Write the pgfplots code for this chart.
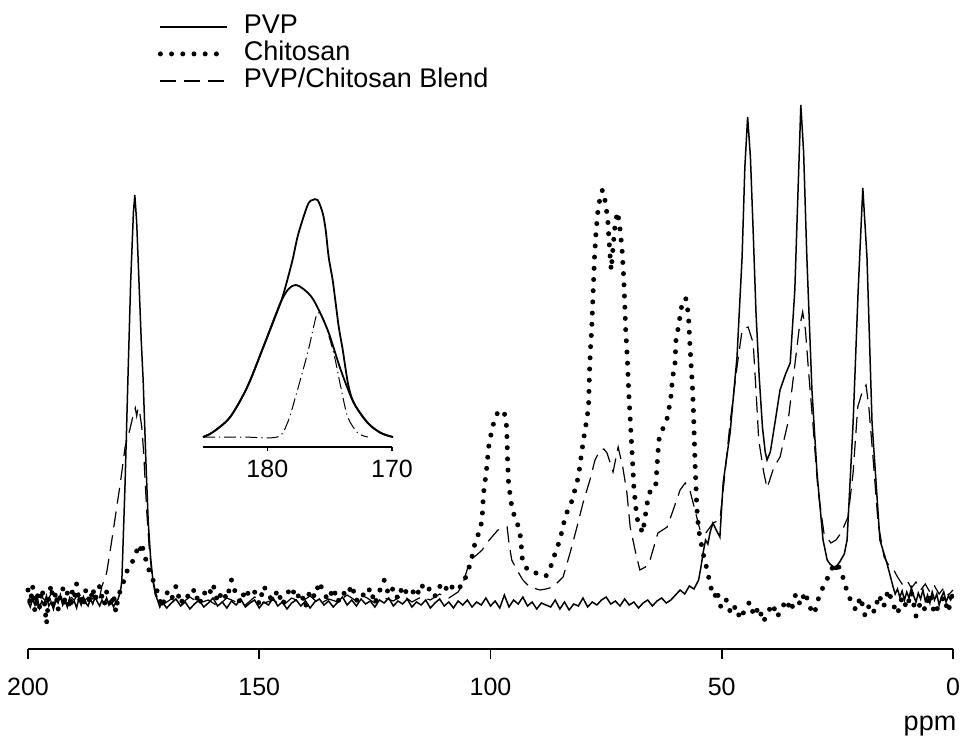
\documentclass[border=0pt]{standalone}
\usepackage{pgfplots}
\pgfplotsset{compat=1.18}
\usepackage{fontspec}
\setmainfont{Liberation Sans}
\newcommand{\lblfont}{\fontsize{12.5}{15}\selectfont}
\newcommand{\legfont}{\fontsize{13.5}{16}\selectfont}
\begin{document}
\lblfont
\begin{tikzpicture}
\begin{axis}[
  scale only axis, width=462.5pt, height=278.5pt,
  at={(0pt,0pt)}, anchor=south west,
  xmin=0, xmax=200, x dir=reverse, ymin=3, ymax=560,
  axis x line=bottom, axis y line=none,
  axis line style={line width=0.9pt,-},
  xtick={0,50,100,150,200},
  tick align=outside, major tick length=5pt,
  tick style={line width=0.9pt,black},
  /pgf/number format/assume math mode=true,
  xticklabel style={font=\lblfont, yshift=-5pt},
  xlabel={ppm},
  xlabel style={at={(axis description cs:1,0)}, anchor=base east, yshift=-40.5pt, xshift=6pt, font=\legfont},
  clip=false,
  legend image code/.code={\draw[#1] (0pt,0pt) -- (33.5pt,0pt);},
  legend style={at={(axis description cs:0.14,1.14)}, anchor=north west, draw=none, fill=none, inner sep=0pt, row sep=1pt, font=\legfont, nodes={inner sep=0pt, text height=9.5pt, text depth=3pt}, /tikz/every odd column/.append style={column sep=7pt}},
  legend cell align=left,
]
\addplot[black, line width=0.75pt] table[row sep=\\] {x y\\
200 50\\199.5 45\\199 53\\198.5 47\\198 55\\197.5 44\\197 51\\196.5 48\\196 56\\195.5 46\\195 50\\194.5 43\\194 52\\193.5 49\\193 57\\192.5 47\\192 52\\191.5 45\\191 54\\190.5 48\\190 51\\189.5 44\\189 53\\188.5 47\\188 55\\187.5 49\\187 46\\186.5 53\\186 48\\185.5 55\\185 50\\184.5 46\\184 52\\183.5 48\\183 54\\182.5 47\\182 51\\181.5 45\\181 50\\180.5 53\\180.2 58\\179.9 64\\179.7 72\\179.0 170\\178.4 272\\177.8 370\\177.2 440\\176.9 457\\176.5 430\\176.0 370\\175.5 310\\175.1 272\\174.5 190\\174.0 130\\173.5 95\\173.0 72\\172.5 58\\172 52\\171.5 45\\
171 50\\170 44\\169 49\\168 53\\167 46\\166 50\\165 43\\164 48\\163 52\\162 45\\161 49\\160 54\\159 46\\158 50\\157 44\\156 51\\155 47\\154 53\\153 45\\152 49\\151 52\\150 44\\149 50\\148 47\\147 54\\146 46\\145 50\\144 43\\143 49\\142 52\\141 46\\140 51\\139 44\\138 50\\137 53\\136 47\\135 51\\134 45\\133 50\\132 55\\131 47\\130 52\\129 46\\128 53\\127 48\\126 51\\125 45\\124 52\\123 49\\122 54\\121 46\\120 51\\119 48\\118 53\\117 45\\116 50\\115 47\\114 52\\113 44\\112 49\\111 53\\110 46\\109 50\\108 44\\107 51\\106 47\\105 52\\104 45\\103 50\\102 47\\101 54\\100 46\\99 51\\98 44\\97 57\\96 45\\95 52\\94 48\\93 55\\92 46\\91 50\\90 43\\89 49\\88 47\\87 45\\86 52\\85 43\\84 50\\83 42\\82 48\\81 46\\80 54\\79 45\\78 50\\77 47\\76 52\\75 55\\74 48\\73 51\\72 46\\71 53\\70 47\\69 50\\68 44\\67 49\\66 52\\65 46\\64 51\\63 54\\62 49\\61 52\\60 57\\59 62\\58 58\\57 66\\56 63\\55 72\\54.5 85\\54 100\\53.5 112\\53 108\\52.5 120\\51.9 129\\51.2 122\\50.4 115\\49.7 169\\48.2 219\\46.7 295\\45.6 395\\45.0 485\\44.4 535\\43.8 495\\43.2 420\\42.6 340\\41.9 275\\41.2 225\\40.6 200\\40.2 192\\39.5 200\\38.5 229\\37.4 262\\36.2 278\\35.2 289\\34.2 362\\33.5 462\\32.9 547\\32.3 500\\31.6 395\\30.5 262\\29.4 179\\28.1 112\\27.2 92\\26.6 88\\25.5 84\\24.5 90\\23.5 98\\22.9 112\\21.6 229\\20.5 362\\19.5 464\\18.6 395\\17.5 229\\15.8 112\\14.3 89\\13.5 75\\13 66\\12.5 58\\12 63\\11.5 55\\11 61\\10.5 52\\10 60\\9.5 54\\9 64\\8.5 56\\8 50\\7.5 59\\7 53\\6.5 62\\6 51\\5.5 57\\5 49\\4.5 60\\4 52\\3.5 58\\3 47\\2.5 55\\2 60\\1.5 50\\1 56\\0.5 52\\0 58\\
};
\addlegendentry{PVP}
\addplot[black, line width=2.5pt, line cap=round, dash pattern=on 0pt off 5.6pt] table[row sep=\\] {x y\\
200 62\\199.5 48\\199 66\\198.5 40\\198 58\\197.5 45\\197 63\\196.5 52\\196 28\\195.5 55\\195 67\\194.5 47\\194 60\\193.5 42\\193 57\\192.5 64\\192 50\\191.5 59\\191 44\\190.5 61\\190 53\\189.5 68\\189 49\\188.5 58\\188 46\\187.5 62\\187 55\\186.5 49\\186 64\\185.5 52\\185 59\\184.5 66\\184 55\\183.5 47\\183 60\\182.5 52\\182 45\\181.5 58\\181 40\\180.5 55\\180 62\\179.5 68\\179 75\\178.5 82\\178 86\\177.5 89\\177 96\\176.4 102\\175.9 98\\175.4 109\\175 100\\174.5 92\\174 84\\173.5 78\\173.2 75\\172.5 66\\172 60\\171.5 52\\
171 45\\170 60\\169 52\\168 66\\167 48\\166 58\\165 54\\164 63\\163 47\\162 60\\161 55\\160 68\\159 50\\158 61\\157 53\\156 72\\155 57\\154 49\\153 63\\152 55\\151 60\\150 48\\149 66\\148 56\\147 52\\146 62\\145 47\\144 58\\143 65\\142 53\\141 60\\140 45\\139 62\\138 55\\137 70\\136 58\\135 52\\134 64\\133 50\\132 60\\131 56\\130 67\\129 51\\128 59\\127 55\\126 64\\125 48\\124 61\\123 72\\122 57\\121 64\\120 53\\119 66\\118 58\\117 62\\116 55\\115 68\\114 60\\113 64\\112 56\\111 66\\110 60\\109 69\\108 63\\107 67\\106.5 65\\105.8 69\\
104.3 89\\103.2 112\\102.2 122\\101.8 135\\101.5 159\\100.9 180\\100.4 205\\99.6 225\\98.5 239\\97.8 236\\97 239\\96.5 225\\96.3 192\\96.1 169\\95.7 155\\95.3 142\\94.2 129\\93.5 115\\93.1 92\\92 82\\90.7 79\\89.2 79\\88 76\\87 85\\86 99\\85 112\\84 132\\83.3 142\\82.3 152\\81.6 165\\81 175\\80.3 199\\79.9 212\\79.2 232\\78.8 245\\78.6 279\\78.4 302\\78.1 325\\77.9 349\\77.7 372\\77.5 395\\77.2 419\\76.8 440\\76.4 452\\75.8 462\\75.1 449\\74.6 429\\74.2 400\\73.9 382\\73.5 405\\73.0 430\\72.5 440\\71.9 420\\71.5 399\\71.2 375\\71 352\\70.8 325\\70.4 292\\70.1 259\\69.7 225\\69.3 192\\69.0 165\\68.6 145\\68.2 132\\67.1 119\\66 152\\65.4 162\\64.3 165\\63.9 192\\63.6 212\\62.6 225\\61.7 235\\61 255\\60.6 275\\60.1 289\\59.9 312\\59.5 322\\58.7 345\\57.8 354\\57.4 344\\57.1 329\\56.9 309\\56.6 285\\56.3 262\\56.1 239\\55.8 192\\55.6 169\\55.4 145\\55.2 134\\55 122\\54 98\\53 79\\52.4 65\\
51.5 55\\51 62\\50.5 48\\50 44\\49 52\\48 38\\47 46\\46 33\\45 42\\44 50\\43 36\\42 45\\41 30\\40 40\\39 48\\38 35\\37 44\\36 52\\35 41\\34 58\\33 47\\32 60\\31 45\\30 38\\29 55\\28 66\\27 75\\26 85\\25.5 80\\25 90\\24.5 82\\24 78\\23.5 70\\23 62\\22 50\\21 42\\20 55\\19 36\\18 48\\17 40\\16 57\\15 45\\14 62\\13 48\\12 38\\11 55\\10 44\\9 60\\8 36\\7 50\\6 42\\5 58\\4 38\\3 47\\2 55\\1 40\\0.5 52\\0 60\\
};
\addlegendentry{Chitosan}
\addplot[black, line width=0.6pt, dash pattern=on 8pt off 4pt] table[row sep=\\] {x y\\
200 52\\199 57\\198 49\\197 55\\196 50\\195 58\\194 51\\193 54\\192 48\\191 56\\190 52\\189 59\\188 50\\187 55\\186 53\\185 60\\184.5 55\\184 66\\183.5 72\\183 79\\182 108\\181 139\\180 170\\179 205\\178 222\\177.2 238\\176.8 244\\176.5 236\\176.2 244\\175.8 238\\175.4 225\\175 200\\174.6 165\\174.3 139\\173.8 105\\173.3 82\\172.8 68\\172.3 58\\171.8 52\\171 47\\169 53\\167 48\\165 55\\163 49\\161 52\\159 46\\157 54\\155 50\\153 47\\151 55\\149 49\\147 52\\145 46\\143 54\\141 50\\139 56\\137 48\\135 53\\133 50\\131 57\\129 51\\127 55\\125 49\\123 54\\121 51\\119 57\\117 50\\115 55\\113 52\\111 58\\109 54\\107 60\\106 68\\105.2 80\\104.4 92\\103 97\\101.8 102\\100.8 109\\99.7 115\\98.4 122\\97.4 123\\96.4 125\\96.0 109\\95.4 92\\94.3 82\\93.0 72\\91.5 65\\89.3 62\\88 63\\86.5 65\\84.3 75\\82.8 99\\81.3 125\\80.0 149\\78.5 172\\77.4 192\\76.3 202\\75.5 203\\74.8 199\\73.5 180\\72.4 205\\71.4 185\\70.5 159\\69.8 125\\68.6 99\\67.7 82\\66.5 85\\65.5 92\\63.8 119\\61.8 125\\60.5 142\\59.0 162\\57.9 169\\56.9 162\\55.8 142\\54.7 122\\53.6 118\\52.5 125\\51.9 129\\50.4 132\\49.5 170\\48.2 229\\46.7 285\\45.6 322\\44.3 325\\43.2 309\\42.6 262\\42.0 212\\40.9 179\\40.2 164\\38.7 185\\37.4 195\\35.7 229\\34.4 279\\33.3 322\\32.5 340\\31.9 322\\31.2 279\\30.3 229\\29.2 162\\27.9 119\\26.4 109\\25.3 112\\24.2 119\\22.7 135\\21.6 179\\20.6 245\\19.5 262\\18.8 267\\18.2 245\\17.3 195\\16.2 129\\14.9 95\\13.8 86\\12.8 82\\12 75\\11 68\\10 72\\9 64\\8 70\\7 62\\6 68\\5 60\\4 66\\3 58\\2 64\\1 57\\0 62\\
};
\addlegendentry{PVP/Chitosan Blend}
\end{axis}
\begin{axis}[
  scale only axis, width=94.5pt, height=130pt,
  at={(87.5pt,101pt)}, anchor=south west,
  xmin=170, xmax=185.16, x dir=reverse, ymin=0, ymax=260,
  axis x line=bottom, axis y line=none,
  axis line style={line width=0.9pt,-},
  xtick={170,180},
  tick align=outside, major tick length=2pt,
  tick style={line width=0.6pt,black},
  /pgf/number format/assume math mode=true,
  xticklabel style={font=\lblfont},
  clip=false,
]
\addplot[black, line width=0.9pt, smooth] table[row sep=\\] {x y\\
185.16 10\\184.35 15\\182.98 30\\181.61 60\\180.32 100\\178.95 144\\178.3 158\\177.74 162\\177.1 158\\176.29 147\\175.16 117\\174.11 77\\173.06 44\\171.94 24\\170.89 14\\169.92 10\\
};
\addplot[black, line width=0.9pt, smooth] table[row sep=\\] {x y\\
185.16 10\\184.35 15\\182.98 30\\181.61 60\\180.32 100\\178.95 144\\178.55 160\\177.98 187\\177.58 210\\177.10 230\\176.69 244\\176.37 247\\175.97 247\\175.56 234\\175.32 217\\175.08 190\\174.76 167\\174.52 144\\174.27 120\\173.95 97\\173.71 77\\173.47 60\\173.06 44\\171.94 24\\170.89 14\\169.92 10\\
};
\addplot[black, line width=0.5pt, smooth, dash pattern=on 6pt off 2pt on 0.6pt off 2pt] table[row sep=\\] {x y\\
185.16 10\\182 10\\179.19 10\\178.39 24\\177.74 50\\176.77 94\\176.29 120\\175.97 134\\175.48 127\\174.68 94\\174.11 60\\173.55 30\\172.74 14\\171.94 10\\
};
\end{axis}
\pgfresetboundingbox
\path[use as bounding box] (-14pt,-48pt) rectangle (467.5pt,324.5pt);
\end{tikzpicture}
\end{document}
